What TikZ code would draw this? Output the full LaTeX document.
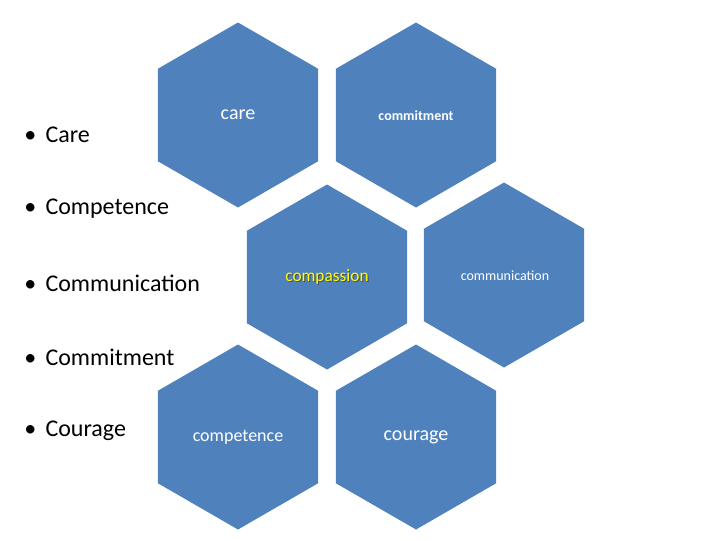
\documentclass[tikz,border=0pt]{standalone}
\usepackage{fontspec}
\setmainfont{Carlito}
\definecolor{hexblue}{HTML}{4F81BD}
\definecolor{hexyel}{HTML}{FFFF00}
\begin{document}
\begin{tikzpicture}[x=0.75pt,y=-0.75pt,
  hexlabel/.style={text=white,inner sep=0pt},
  bullet/.style={anchor=west,inner sep=0pt,font=\fontsize{18}{20}\selectfont}]
\useasboundingbox (0,0) rectangle (720,540);
\foreach \cx/\cy in {238/115,416/115,327/277,504/275,238/437,416/437}{
  \fill[hexblue] (\cx,\cy) ++(90:92.5) -- ++(-150:92.5) -- ++(-90:92.5) -- ++(-30:92.5) -- ++(30:92.5) -- ++(90:92.5) -- cycle;
}
\node[hexlabel,font=\fontsize{15}{17}\selectfont] (care) at (238,115) {care};
\node[hexlabel,font=\fontsize{10.5}{12}\selectfont\bfseries] (commit) at (416,116) {commitment};
\node[inner sep=0pt,text=black!70,font=\fontsize{13}{15}\selectfont] at (328,278) {compassion};
\node[inner sep=0pt,text=hexyel,font=\fontsize{13}{15}\selectfont] (compas) at (327,277) {compassion};
\node[hexlabel,font=\fontsize{10.5}{12}\selectfont] (commun) at (505,276) {communication};
\node[hexlabel,font=\fontsize{13.5}{15}\selectfont] (compet) at (238,437) {competence};
\node[hexlabel,font=\fontsize{15}{17}\selectfont] (cour) at (416,437) {courage};
\node[bullet] (b1) at (24,135) {•\hspace{7pt}Care};
\node[bullet] (b2) at (24,209) {•\hspace{7pt}Competence};
\node[bullet] (b3) at (24,283) {•\hspace{7pt}Communication};
\node[bullet] (b4) at (24,357) {•\hspace{7pt}Commitment};
\node[bullet] (b5) at (24,431) {•\hspace{7pt}Courage};
\end{tikzpicture}
\end{document}
